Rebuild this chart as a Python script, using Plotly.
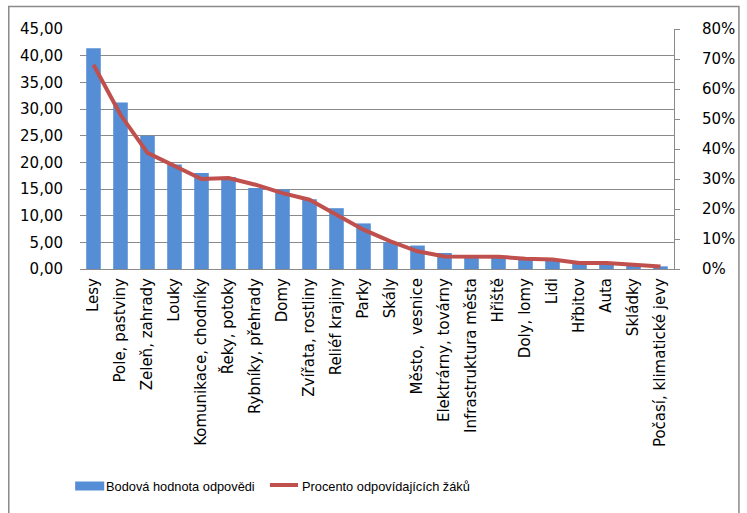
import plotly.graph_objects as go

categories = ["Lesy", "Pole, pastviny", "Zeleň, zahrady", "Louky", "Komunikace, chodníky",
              "Řeky, potoky", "Rybníky, přehrady", "Domy", "Zvířata, rostliny", "Reliéf krajiny",
              "Parky", "Skály", "Město,  vesnice", "Elektrárny, továrny", "Infrastruktura města",
              "Hřiště", "Doly, lomy", "Lidi", "Hřbitov", "Auta", "Skládky", "Počasí, klimatické jevy"]
body_values = [41.4, 31.2, 25.0, 19.6, 18.0, 17.25, 15.2, 14.9, 13.1, 11.4,
               8.55, 5.0, 4.4, 3.0, 2.5, 2.4, 2.0, 1.8, 1.2, 1.1, 0.8, 0.5]
percent_values = [0.681, 0.514, 0.387, 0.345, 0.300, 0.303, 0.281, 0.253, 0.231, 0.181,
                  0.131, 0.092, 0.059, 0.042, 0.042, 0.041, 0.034, 0.032, 0.020, 0.020, 0.014, 0.008]
series_names = ["Bodová hodnota odpovědi", "Procento odpovídajících žáků"]

W, H = 747, 513
L, R, T, B = 80, 54, 29, 244
PW, PH = W - L - R, H - T - B

def px(x):
    return (x - L) / PW

def py(y):
    return (H - B - y) / PH

BLUE = "#558ED5"
RED = "#C0504D"
GRID = "#8A8A8A"
TICKFONT = dict(family="DejaVu Sans", size=15, color="black")

fig = go.Figure()
fig.add_trace(go.Bar(x=categories, y=body_values, name=series_names[0],
                     marker=dict(color=BLUE, line=dict(width=0)), yaxis="y"))
fig.add_trace(go.Scatter(x=categories, y=percent_values, name=series_names[1],
                         mode="lines", line=dict(color=RED, width=4), yaxis="y2"))

fig.update_layout(
    width=W, height=H,
    margin=dict(l=L, r=R, t=T, b=B, pad=0),
    paper_bgcolor="white", plot_bgcolor="white",
    separators=", ",
    showlegend=False,
    bargap=0.46,
    xaxis=dict(showline=True, linecolor=GRID, linewidth=1, ticks="", tickangle=-90,
               tickfont=dict(family="DejaVu Sans", size=15, color="black"),
               ticklabelstandoff=2, showgrid=False),
    yaxis=dict(range=[0, 45], dtick=5, tickformat=".2f", showgrid=True, gridcolor=GRID,
               gridwidth=1, zeroline=False, showline=False, ticks="",
               tickfont=TICKFONT, ticklabelstandoff=16),
    yaxis2=dict(range=[0, 0.8], dtick=0.1, tickformat=".0%", overlaying="y", side="right",
                showgrid=False, zeroline=False, showline=True, linecolor=GRID, linewidth=1,
                ticks="outside", ticklen=5, tickcolor=GRID, tickfont=TICKFONT,
                ticklabelstandoff=19),
)

# chart border
fig.add_shape(type="rect", xref="paper", yref="paper",
              x0=px(6.5), y0=py(6.5), x1=px(760), y1=py(530),
              line=dict(color=GRID, width=1.5), fillcolor="rgba(0,0,0,0)", layer="below")

# legend (drawn manually)
fig.add_shape(type="rect", xref="paper", yref="paper",
              x0=px(75), x1=px(105), y0=py(481.5), y1=py(490.5),
              fillcolor=BLUE, line=dict(width=0))
fig.add_shape(type="line", xref="paper", yref="paper",
              x0=px(276), x1=px(305), y0=py(485), y1=py(485),
              line=dict(color=RED, width=4))
LEGFONT = dict(family="Liberation Sans", size=12.8, color="black")
fig.add_annotation(xref="paper", yref="paper", x=px(105), y=py(486), text=series_names[0],
                   showarrow=False, xanchor="left", yanchor="middle", font=LEGFONT)
fig.add_annotation(xref="paper", yref="paper", x=px(307), y=py(486), text=series_names[1],
                   showarrow=False, xanchor="left", yanchor="middle", font=LEGFONT)

fig.write_html("out.html")
